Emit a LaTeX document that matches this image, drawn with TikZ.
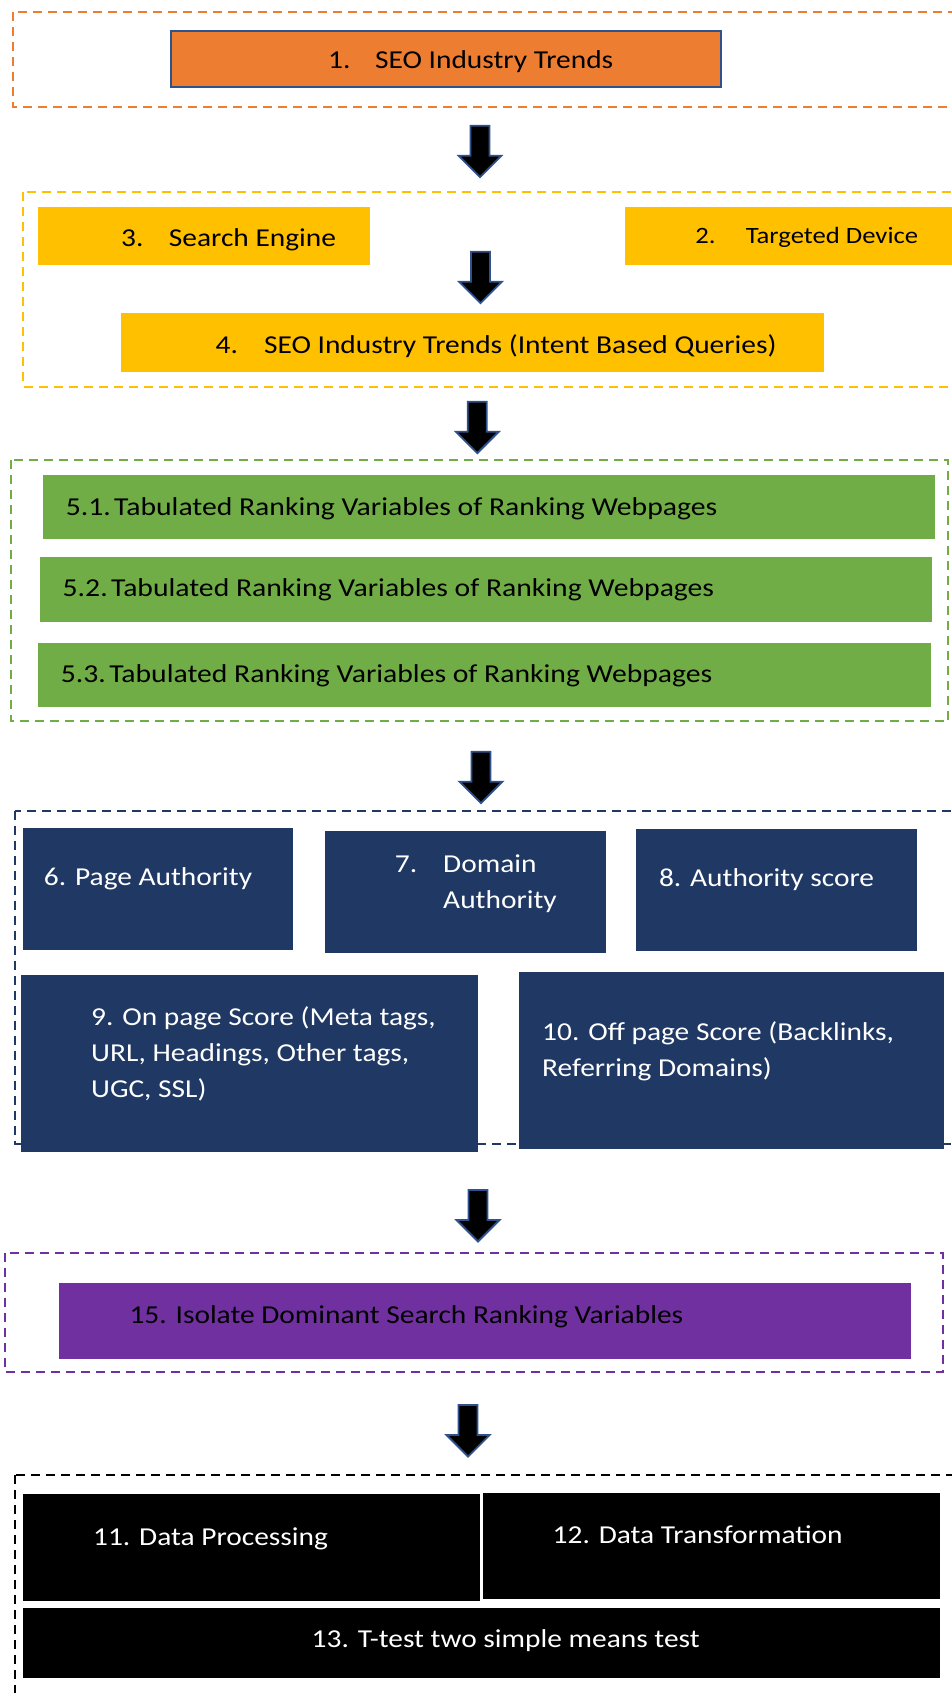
\documentclass[tikz,border=0pt]{standalone}
\usepackage{fontspec}
\setmainfont{Carlito}
\definecolor{cOrange}{HTML}{ED7D31}
\definecolor{cYellow}{HTML}{FFC000}
\definecolor{cGreen}{HTML}{70AD47}
\definecolor{cNavy}{HTML}{203864}
\definecolor{cPurple}{HTML}{7030A0}
\definecolor{cEdge}{HTML}{2F528F}
\newcommand{\wtxt}[1]{\scalebox{1.14}[1]{#1}}
\newcommand{\wtxtb}[1]{\scalebox{1.15}[1]{#1}}
\newcommand{\numtab}[2]{\makebox[#1pt][l]{#2}}
\tikzset{
  grp/.style={line width=2pt, dash pattern=on 9pt off 6pt},
  box/.style={rectangle, anchor=north west, inner sep=0pt, outer sep=0pt},
  lbl/.style={anchor=base west, inner sep=0pt, font=\fontsize{25.8}{36}\selectfont},
  lblsmall/.style={anchor=base west, inner sep=0pt, font=\fontsize{23.4}{32}\selectfont},
  blockarrow/.pic={
    \draw[line width=1.8pt, draw=cEdge, fill=black, line join=miter]
      (-9.5,0) -- (9.5,0) -- (9.5,30) -- (21.5,30) -- (0,51.5) -- (-21.5,30) -- (-9.5,30) -- cycle;
  }
}
\begin{document}
\begin{tikzpicture}[x=1pt,y=-1pt]
\useasboundingbox (0,0) rectangle (952,1693);
\fill[white] (0,0) rectangle (952,1693);

% dashed groups
\draw[grp, cOrange] (13.4,12.3) rectangle (975,107.3);
\draw[grp, cYellow] (23,192.3) rectangle (975,386.7);
\draw[grp, cGreen] (10.9,460) rectangle (948.4,721);
\draw[grp, cNavy] (15.2,811) rectangle (975,1144);
\draw[grp, cPurple] (4.9,1252.7) rectangle (943,1371.7);
\draw[grp, black] (15.2,1475) rectangle (975,1720);

% boxes
\node[box, fill=cOrange, draw=cEdge, line width=2pt, minimum width=550pt, minimum height=56.6pt] (b1) at (171,30.7) {};
\node[box, fill=cYellow, minimum width=332.4pt, minimum height=58pt] (b3) at (37.6,207.3) {};
\node[box, fill=cYellow, minimum width=335pt, minimum height=58.3pt] (b2) at (625,206.7) {};
\node[box, fill=cYellow, minimum width=703pt, minimum height=58.4pt] (b4) at (121.4,313.3) {};
\node[box, fill=cGreen, minimum width=892.5pt, minimum height=64.3pt] (b51) at (42.5,475) {};
\node[box, fill=cGreen, minimum width=892pt, minimum height=64.7pt] (b52) at (40,557.3) {};
\node[box, fill=cGreen, minimum width=892.5pt, minimum height=64pt] (b53) at (38.3,643.3) {};
\node[box, fill=cNavy, minimum width=270.1pt, minimum height=121.7pt] (b6) at (22.5,828.3) {};
\node[box, fill=cNavy, minimum width=281.2pt, minimum height=121.7pt] (b7) at (324.8,831) {};
\node[box, fill=cNavy, minimum width=280.5pt, minimum height=121.7pt] (b8) at (636.3,829.3) {};
\node[box, fill=cNavy, minimum width=457.1pt, minimum height=177pt] (b9) at (21.3,975.3) {};
\node[box, fill=cNavy, minimum width=425pt, minimum height=177pt] (b10) at (519,972.3) {};
\node[box, fill=cPurple, minimum width=851.8pt, minimum height=76pt] (b15) at (58.9,1283.3) {};
\node[box, fill=black, minimum width=457.2pt, minimum height=106.4pt] (b11) at (22.5,1494.3) {};
\node[box, fill=black, minimum width=457.3pt, minimum height=106pt] (b12) at (482.7,1493.3) {};
\node[box, fill=black, minimum width=917.5pt, minimum height=70pt] (b13) at (22.5,1608.3) {};

% block arrows
\coordinate (a1) at (480,125.7);
\coordinate (a2) at (480.5,251.7);
\coordinate (a3) at (477.3,401.7);
\coordinate (a4) at (481,751.7);
\coordinate (a5) at (478,1190);
\coordinate (a6) at (468,1405);
\foreach \a in {a1,a2,a3,a4,a5,a6} { \pic at (\a) {blockarrow}; }

% labels
\node[lbl] (t1) at (328,69) {\wtxt{\numtab{41.2}{1.}SEO Industry Trends}};
\node[lbl] (t3) at (121,246.7) {\wtxt{\numtab{41.9}{3.}Search Engine}};
\node[lblsmall] (t2) at (695.2,244) {\wtxt{\numtab{44.2}{2.}Targeted Device}};
\node[lbl] (t4) at (215.5,353.3) {\wtxt{\numtab{42.5}{4.}SEO Industry Trends (Intent Based Queries)}};
\node[lbl] (t51) at (65.6,515) {\wtxtb{\numtab{42.1}{5.1.}Tabulated Ranking Variables of Ranking Webpages}};
\node[lbl] (t52) at (62.5,596.7) {\wtxtb{\numtab{42.1}{5.2.}Tabulated Ranking Variables of Ranking Webpages}};
\node[lbl] (t53) at (60.7,682.7) {\wtxtb{\numtab{42.1}{5.3.}Tabulated Ranking Variables of Ranking Webpages}};
\node[lbl, text=white] (t6) at (43.7,885.7) {\wtxt{6. Page Authority}};
\node[lbl, text=white] (t7) at (394.7,872.7) {\wtxt{\begin{tabular}[t]{@{}l@{}}\numtab{42.4}{7.}Domain\\\hspace*{42.4pt}Authority\end{tabular}}};
\node[lbl, text=white] (t8) at (658.8,886.7) {\wtxt{8. Authority score}};
\node[lbl, text=white] (t9) at (91,1025) {\wtxt{\begin{tabular}[t]{@{}l@{}}9. On page Score (Meta tags,\\URL, Headings, Other tags,\\UGC, SSL)\end{tabular}}};
\node[lbl, text=white] (t10) at (542,1040) {\wtxt{\begin{tabular}[t]{@{}l@{}}10. Off page Score (Backlinks,\\Referring Domains)\end{tabular}}};
\node[lbl] (t15) at (129.3,1323.3) {\wtxt{15. Isolate Dominant Search Ranking Variables}};
\node[lbl, text=white] (t11) at (92.9,1545) {\wtxt{11. Data Processing}};
\node[lbl, text=white] (t12) at (552.5,1543.3) {\wtxt{12. Data Transformation}};
\node[lbl, text=white] (t13) at (311.5,1647.7) {\wtxt{13. T-test two simple means test}};
\end{tikzpicture}
\end{document}
